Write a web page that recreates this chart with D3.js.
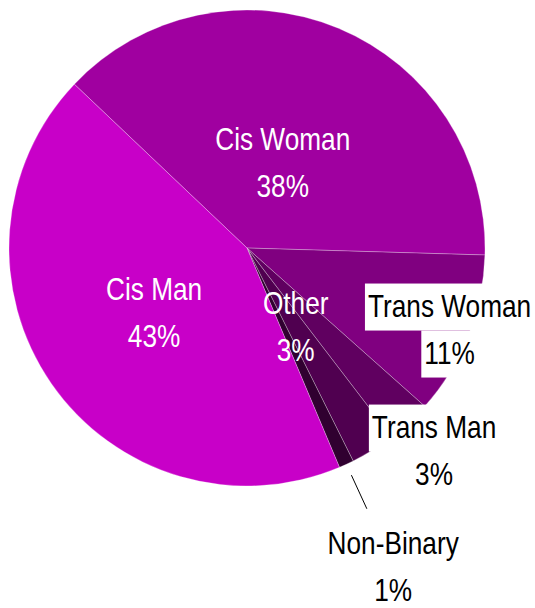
<!DOCTYPE html>
<html>
<head>
<meta charset="utf-8">
<script src="https://cdn.jsdelivr.net/npm/d3@7"></script>
<style>
  body { margin: 0; background: #fff; }
  svg text { font-family: "Liberation Sans", Arial, sans-serif; }
</style>
</head>
<body>
<div id="container"></div>
<script>
// data, in drawing order (clockwise)
const categories = ["Cis Woman", "Trans Woman", "Trans Man", "Other", "Non-Binary", "Cis Man"];
const values = [38, 11, 3, 3, 1, 43];
const colors = ["#a000a0", "#800080", "#600060", "#500050", "#300030", "#c800c8"];

// label placement (distance from centre) and look
const labelLayout = {
    "Cis Woman":   { r: 93,  fill: "#fff", box: false },
    "Trans Woman": { r: 218, fill: "#000", box: true },
    "Trans Man":   { r: 275, fill: "#000", box: true },
    "Other":       { r: 92,  fill: "#fff", box: false },
    "Non-Binary":  { r: 350, fill: "#000", box: false, leader: [250, 287] },
    "Cis Man":     { r: 113, fill: "#fff", box: false }
};

const width = 535, height = 608;
const cx = 247, cy = 248, radius = 238;
const fontSize = 32, lineH = 47;
const narrow = 0.82; // no narrow face installed, squeeze the regular one

const svg = d3.select("#container").append("svg")
    .attr("width", width)
    .attr("height", height);

const g = svg.append("g").attr("transform", `translate(${cx},${cy})`);

const total = d3.sum(values);
const rows = categories.map((c, i) => ({ name: c, value: values[i], color: colors[i] }));

const startA = -46.5 * Math.PI / 180;
const pie = d3.pie()
    .sort(null)
    .value(d => d.value)
    .startAngle(startA)
    .endAngle(startA + 2 * Math.PI);

const arc = d3.arc().innerRadius(0).outerRadius(radius);
const arcs = pie(rows);

g.selectAll("path.slice")
    .data(arcs)
    .enter().append("path")
    .attr("class", "slice")
    .attr("d", arc)
    .attr("fill", d => d.data.color)
    .attr("stroke", "rgba(255,255,255,0.45)")
    .attr("stroke-width", 0.6);

// point at distance r along the middle of a slice
function polar(d, r) {
    const a = (d.startAngle + d.endAngle) / 2;
    return [r * Math.sin(a), -r * Math.cos(a)];
}

// leader lines
arcs.forEach(function (d) {
    const lay = labelLayout[d.data.name];
    if (!lay.leader) return;
    const p0 = polar(d, lay.leader[0]);
    const p1 = polar(d, lay.leader[1]);
    g.append("line")
        .attr("x1", p0[0]).attr("y1", p0[1])
        .attr("x2", p1[0]).attr("y2", p1[1])
        .attr("stroke", "#000")
        .attr("stroke-width", 1);
});

// labels
arcs.forEach(function (d) {
    const lay = labelLayout[d.data.name];
    const p = polar(d, lay.r);
    const pct = Math.round(d.data.value / total * 100) + "%";
    const lines = [d.data.name, pct];
    const lg = g.append("g");
    lines.forEach(function (txt, k) {
        const base = p[1] - 12 + k * lineH;
        const tg = lg.append("g")
            .attr("transform", `translate(${p[0]},${base}) scale(${narrow},1)`);
        const t = tg.append("text")
            .attr("x", 0)
            .attr("y", 0)
            .attr("text-anchor", "middle")
            .style("font-size", fontSize + "px")
            .attr("fill", lay.fill)
            .text(txt);
        if (lay.box) {
            const w = t.node().getComputedTextLength() * narrow;
            lg.insert("rect", "g")
                .attr("x", p[0] - w / 2 - 3)
                .attr("y", base - 33)
                .attr("width", w + 6)
                .attr("height", lineH)
                .attr("fill", "#fff");
        }
    });
});
</script>
</body>
</html>
